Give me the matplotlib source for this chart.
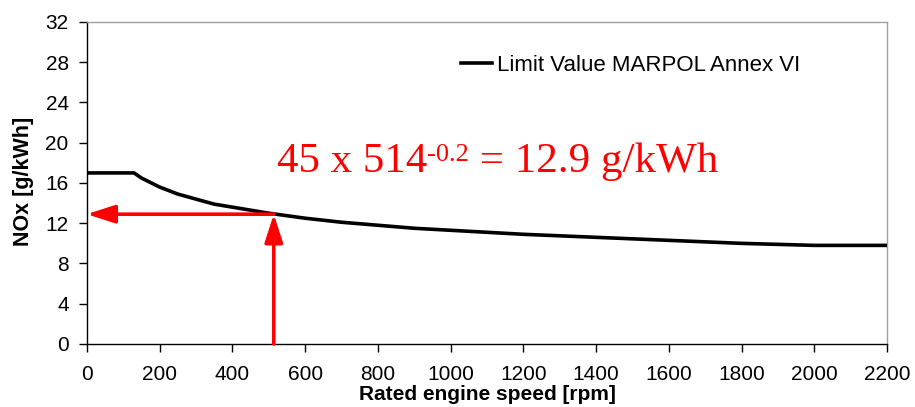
import matplotlib.pyplot as plt

plt.rcParams['font.family'] = ['Liberation Sans', 'DejaVu Sans']

# NOx limit curve (rated speed in rpm, limit in g/kWh)
speed_rpm = [0, 130, 150, 200, 250, 300, 350, 400, 500, 600, 700, 800,
             900, 1000, 1200, 1400, 1600, 1800, 2000, 2200]
nox_limit = [17.0, 17.0, 16.5, 15.6, 14.9, 14.4, 13.9, 13.6, 13.0, 12.5,
             12.1, 11.8, 11.5, 11.3, 10.9, 10.6, 10.3, 10.0, 9.8, 9.8]

# worked example: engine rated at 514 rpm
example_rpm = 514
example_nox = 12.9

x_ticks = list(range(0, 2201, 200))
y_ticks = list(range(0, 33, 4))

fig = plt.figure(figsize=(9.15, 4.07), dpi=100)
ax = fig.add_axes([0.0948, 0.1548, 0.8749, 0.7912])

ax.plot(speed_rpm, nox_limit, color='black', lw=2.6,
        label='Limit Value MARPOL Annex VI', zorder=3)

arrow = dict(arrowstyle='-|>,head_length=1.7,head_width=0.55',
             color='red', lw=2.6, shrinkA=0, shrinkB=0, mutation_scale=10)
ax.annotate('', xy=(example_rpm, example_nox), xytext=(example_rpm, 0),
            arrowprops=arrow, zorder=4)
ax.annotate('', xy=(0, example_nox), xytext=(example_rpm, example_nox),
            arrowprops=arrow, zorder=4)

# formula written in three pieces so the exponent sits as a superscript
serif = dict(color='red', family='Liberation Serif')
t1 = ax.text(0.2377, 0.534, '45 x %d' % example_rpm, transform=ax.transAxes,
             fontsize=31, ha='left', va='baseline', **serif)
t2 = ax.annotate('-0.2', xy=(1, 0.53), xycoords=t1, fontsize=19,
                 ha='left', va='baseline', **serif)
ax.annotate(' = %.1f g/kWh' % example_nox, xy=(1, 0), xycoords=(t2, t1),
            fontsize=31, ha='left', va='bottom', **serif)

ax.set_xlim(0, 2200)
ax.set_ylim(0, 32)
ax.set_xticks(x_ticks)
ax.set_yticks(y_ticks)
ax.tick_params(axis='both', labelsize=15, length=6, width=1, color='black')
ax.tick_params(axis='y', pad=7)
ax.tick_params(axis='x', pad=9)

for side in ['top', 'right']:
    ax.spines[side].set_color('#a0a0a0')
for side in ['left', 'bottom']:
    ax.spines[side].set_color('black')
for s in ax.spines.values():
    s.set_linewidth(1)

ax.set_xlabel('Rated engine speed [rpm]', fontsize=15, fontweight='bold')
ax.set_ylabel('NOx [g/kWh]', fontsize=15.5, fontweight='bold')
ax.xaxis.set_label_coords(0.5, -0.126)
ax.yaxis.set_label_coords(-0.066, 0.505)

ax.legend(loc='center left', bbox_to_anchor=(0.467, 0.866), frameon=False,
          fontsize=16, handlelength=1.4, handletextpad=0.25,
          borderpad=0, borderaxespad=0)

fig.savefig('out.png', dpi=100)
